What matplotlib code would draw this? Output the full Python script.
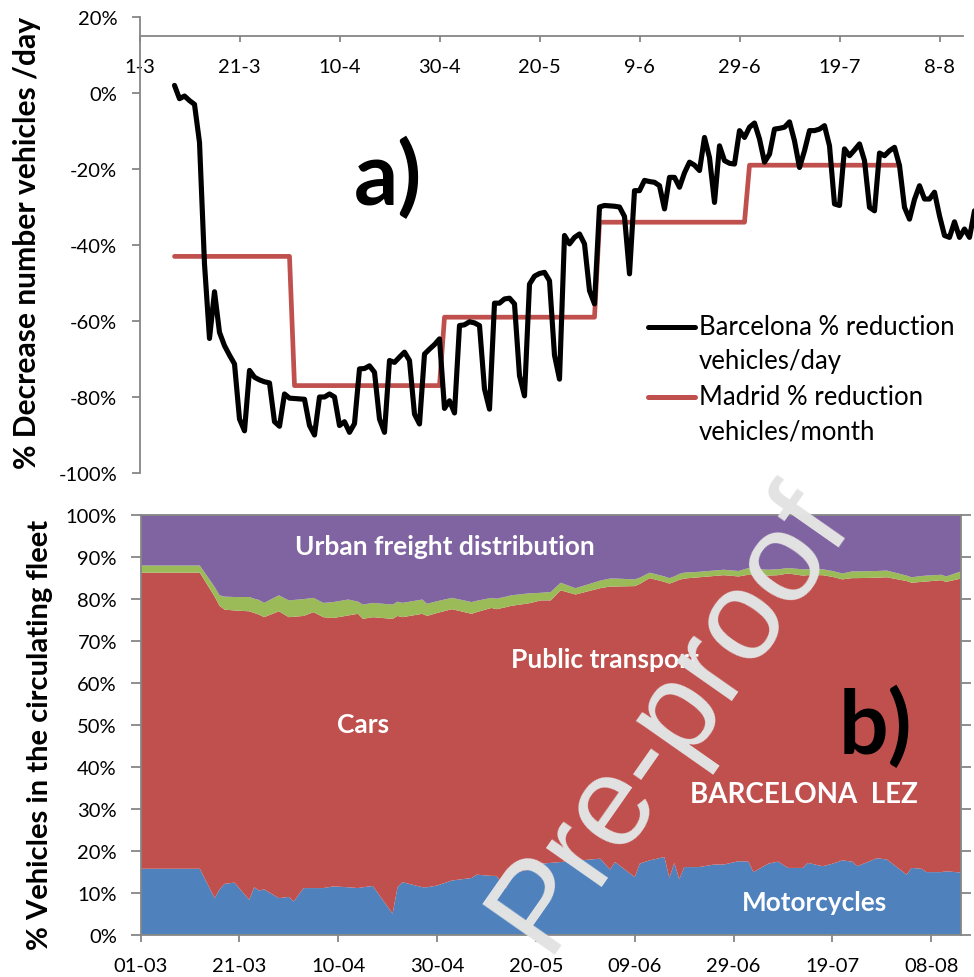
import matplotlib
matplotlib.use("Agg")
import matplotlib.pyplot as plt
import numpy as np

W, H = 974, 978
def fx(px): return px / W
def fy(py): return 1 - py / H

# ---------------- data: panel a ----------------
bcn_start_day = 7  # days since 1 March
bcn_values = [2, -1.5, -0.8, -2, -3, -13, -45, -64.6, -52.3, -63, -66.5, -69, -71.3, -85.8,
              -88.9, -73, -74.8, -75.5, -76, -76.3, -86.5, -87.7, -79.2, -80.3, -80.4, -80.5,
              -80.6, -87.5, -90, -80, -80, -79.2, -80, -87.5, -86.5, -89.3, -87, -72.6, -72.5,
              -71.8, -73.5, -85.8, -89.3, -70.4, -70.9, -69.5, -68.2, -70.4, -84.5, -87.1,
              -68.7, -67.4, -66.2, -64.7, -83, -81, -84.2, -61.2, -61, -60.2, -60.5, -61.2,
              -77.9, -83.2, -55.3, -55.3, -54.2, -54, -55.5, -74.4, -79.7, -50.3, -48.2,
              -47.5, -47.2, -49.4, -69, -75.3, -37.5, -39.7, -38, -37.1, -39.7, -52, -55.5,
              -30, -29.6, -29.7, -29.8, -30, -32.5, -47.6, -25.7, -25.7, -23, -23.3, -23.5,
              -24.4, -30.5, -22.2, -22.2, -24.8, -21, -18.2, -19, -20.4, -11.7, -17, -28.8,
              -13.9, -17.8, -18.5, -18.7, -9.9, -11.7, -9, -7.9, -12.1, -18.2, -16.1, -9.5,
              -9.3, -9, -7.6, -12.6, -19.6, -15.2, -9.9, -9.9, -9.5, -8.6, -13.9, -29.2,
              -29.6, -14.7, -16.5, -15, -13.4, -17.8, -30.1, -31, -15.8, -16.5, -15.2, -14.3,
              -19.1, -30.1, -33.2, -28, -24.4, -27.9, -27.9, -26.1, -32.3, -37.5, -38, -33.9,
              -38, -35.8, -38, -31]

madrid_months = ["March", "April", "May", "June", "July"]
madrid_first_day = [7, 31, 61, 92, 122]
madrid_last_day = [30, 60, 91, 121, 152]
madrid_values = [-43, -77, -59, -34, -19]

top_tick_labels = ["1-3", "21-3", "10-4", "30-4", "20-5", "9-6", "29-6", "19-7", "8-8"]
top_y_labels = ["-100%", "-80%", "-60%", "-40%", "-20%", "0%", "20%"]

# ---------------- data: panel b ----------------
fleet_days = [0, 12, 15, 16, 17, 19, 22, 23, 24, 25, 28, 30, 31, 33, 35, 37, 39, 42, 44, 45,
              47, 51, 52, 53, 57, 58, 60, 63, 67, 68, 71, 72, 74, 75, 78, 79, 81, 83, 85, 88,
              93, 95, 96, 100, 101, 103, 106, 107, 108, 109, 110, 113, 116, 118, 121, 123,
              124, 127, 129, 131, 134, 135, 138, 140, 142, 144, 145, 149, 151, 155, 156, 158,
              159, 162, 163, 166]
motorcycles = [15.7, 15.7, 8.7, 10.8, 12.1, 12.4, 8.3, 11.3, 10.5, 10.8, 8.7, 9.0, 7.9, 11.1,
               11.1, 11.1, 11.5, 11.3, 11.1, 11.3, 11.6, 5.0, 11.3, 12.5, 11.3, 11.3, 11.7,
               12.9, 13.5, 14.3, 14.0, 14.0, 11.0, 14.7, 15.3, 16.5, 16.9, 17.1, 17.3, 17.6,
               18.1, 15.5, 17.3, 13.7, 16.9, 17.7, 18.5, 13.5, 17.1, 13.2, 16.1, 16.1, 16.7,
               16.7, 17.5, 17.4, 14.9, 16.9, 17.4, 15.9, 15.9, 17.1, 16.3, 16.9, 17.7, 17.4,
               16.3, 18.2, 17.9, 14.3, 15.9, 15.7, 14.9, 14.9, 15.1, 14.8]
cars = [70.5, 70.5, 71.8, 67.5, 65.3, 64.8, 68.7, 65.3, 65.7, 64.8, 68.3, 66.6, 67.8, 64.8,
        65.7, 64.5, 63.9, 64.7, 65.3, 63.9, 64.0, 70.2, 64.6, 63.1, 65.1, 64.6, 64.9, 64.6,
        62.9, 62.5, 63.8, 63.5, 67.0, 63.6, 63.5, 62.5, 62.7, 62.5, 64.7, 63.4, 64.4, 67.4,
        65.6, 69.3, 66.6, 67.2, 65.5, 70.1, 66.9, 71.3, 68.7, 69.0, 68.7, 68.9, 67.8, 68.3,
        70.7, 68.6, 68.2, 70.1, 69.6, 68.5, 69.3, 68.3, 66.9, 67.5, 68.6, 66.8, 67.2, 69.9,
        67.9, 68.3, 69.2, 69.5, 68.9, 70.0]
public_transport = [1.7, 1.7, 2.3, 2.5, 3.1, 3.2, 3.4, 3.4, 3.5, 3.4, 3.8, 4.0, 4.0, 4.0, 3.4,
                    3.4, 3.8, 3.8, 2.9, 3.4, 3.4, 3.4, 3.4, 3.4, 3.4, 2.9, 2.8, 2.7, 2.8, 2.7,
                    2.4, 2.5, 2.5, 2.5, 2.4, 2.3, 1.8, 2.0, 1.8, 1.5, 1.8, 1.9, 1.9, 1.6, 1.5,
                    1.3, 1.3, 1.3, 1.3, 1.4, 1.4, 1.3, 1.3, 1.3, 1.3, 1.6, 1.5, 1.4, 1.4, 1.3,
                    1.5, 1.4, 1.4, 1.4, 1.4, 1.6, 1.6, 1.6, 1.6, 1.3, 1.3, 1.4, 1.4, 1.3, 1.3, 1.7]
urban_freight = [12.1, 12.1, 17.2, 19.2, 19.5, 19.6, 19.6, 20.0, 20.3, 21.0, 19.2, 20.4, 20.3,
                 20.1, 19.8, 21.0, 20.8, 20.2, 20.7, 21.4, 21.0, 21.4, 20.7, 21.0, 20.2, 21.2,
                 20.6, 19.8, 20.8, 20.5, 19.8, 20.0, 19.5, 19.2, 18.8, 18.7, 18.6, 18.4, 16.2,
                 17.5, 15.7, 15.2, 15.2, 15.4, 15.0, 13.8, 14.7, 15.1, 14.7, 14.1, 13.8, 13.6,
                 13.3, 13.1, 13.4, 12.7, 12.9, 13.1, 13.0, 12.7, 13.0, 13.0, 13.0, 13.4, 14.0,
                 13.5, 13.5, 13.4, 13.3, 14.5, 14.9, 14.6, 14.5, 14.3, 14.7, 13.5]

bottom_tick_labels = ["01-03", "21-03", "10-04", "30-04", "20-05", "09-06", "29-06", "19-07", "08-08"]
bottom_y_labels = ["0%", "10%", "20%", "30%", "40%", "50%", "60%", "70%", "80%", "90%", "100%"]

# ---------------- styling ----------------
AX_GRAY = "#868686"
FONT = "Lato"
plt.rcParams["font.family"] = [FONT, "DejaVu Sans"]

fig = plt.figure(figsize=(W / 100, H / 100), dpi=100)

# ================= panel a =================
ax1 = fig.add_axes([fx(139.5), fy(474), (W - 139.5) / W, (474 - 18) / H])
ax1.patch.set_visible(False)
top_xmax = (W - 139.5) / 5.0
ax1.set_xlim(0, top_xmax)
ax1.set_ylim(-100, 20)

bcn_days = np.arange(bcn_start_day, bcn_start_day + len(bcn_values))
ax1.plot(bcn_days, bcn_values, color="black", lw=3.7, solid_joinstyle="round",
         solid_capstyle="round", zorder=3, clip_on=False)

mx, my = [], []
for a, b, v in zip(madrid_first_day, madrid_last_day, madrid_values):
    mx += [a, b]
    my += [v, v]
ax1.plot(mx, my, color="#C0504D", lw=3.4, solid_joinstyle="round",
         solid_capstyle="round", zorder=2)

for s in ["top", "right"]:
    ax1.spines[s].set_visible(False)
ax1.spines["left"].set_color(AX_GRAY)
ax1.spines["left"].set_linewidth(1.3)
ax1.spines["bottom"].set_position(("data", 15))
ax1.spines["bottom"].set_color(AX_GRAY)
ax1.spines["bottom"].set_linewidth(1.3)
ax1.spines["bottom"].set_bounds(0, 164.7)

ax1.set_xticks(np.arange(0, 161, 20))
ax1.set_xticklabels(top_tick_labels)
ax1.set_yticks(np.arange(-100, 21, 20))
ax1.set_yticklabels(top_y_labels)
ax1.tick_params(axis="x", direction="out", length=4, width=1.3, color=AX_GRAY,
                pad=12, labelsize=14.5)
ax1.tick_params(axis="y", direction="out", length=6, width=1.3, color=AX_GRAY,
                pad=10, labelsize=14.5)

fig.text(fx(27), fy(243), "% Decrease number vehicles /day", rotation=90, ha="center",
         va="center", fontsize=21.6, fontweight="bold")
fig.text(fx(388), fy(178), "a)", ha="center", va="center", fontsize=63, fontweight="bold")

# manual legend (handle aligned with the first text line, as in the original)
leg_items = [("black", "Barcelona % reduction", "vehicles/day", 327.5),
             ("#C0504D", "Madrid % reduction", "vehicles/month", 398)]
for col, l1, l2, yy in leg_items:
    fig.add_artist(plt.Line2D([fx(648), fx(695)], [fy(yy), fy(yy)], color=col, lw=3.6,
                              solid_capstyle="round"))
    fig.text(fx(699), fy(yy), l1, ha="left", va="center", fontsize=18.5)
    fig.text(fx(699), fy(yy + 34), l2, ha="left", va="center", fontsize=18.5)

# ================= panel b =================
ax2 = fig.add_axes([fx(140.5), fy(935.7), (961 - 140.5) / W, (935.7 - 515.7) / H])
ax2.stackplot(fleet_days, motorcycles, cars, public_transport, urban_freight,
              colors=["#4F81BD", "#C0504D", "#9BBB59", "#8064A2"],
              labels=["Motorcycles", "Cars", "Public transport", "Urban freight distribution"],
              linewidth=0)
ax2.set_xlim(0, 166)
ax2.set_ylim(0, 100)
for s in ax2.spines.values():
    s.set_color(AX_GRAY)
    s.set_linewidth(1.3)
ax2.set_xticks(np.arange(0, 161, 20))
ax2.set_xticklabels(bottom_tick_labels)
ax2.set_yticks(np.arange(0, 101, 10))
ax2.set_yticklabels(bottom_y_labels)
ax2.tick_params(axis="x", direction="out", length=5, width=1.3, color=AX_GRAY,
                pad=11, labelsize=14.5)
ax2.tick_params(axis="y", direction="out", length=7, width=1.3, color=AX_GRAY,
                pad=10, labelsize=14.5, right=True, labelright=False)

fig.text(fx(40), fy(735), "% Vehicles in the circulating fleet", rotation=90, ha="center",
         va="center", fontsize=21, fontweight="bold")

wkw = dict(color="white", fontweight="bold", ha="center", va="center")
fig.text(fx(445), fy(547), "Urban freight distribution", fontsize=19, **wkw)
fig.text(fx(605), fy(660), "Public transport", fontsize=19, **wkw)
fig.text(fx(363), fy(725), "Cars", fontsize=19, **wkw)
fig.text(fx(804), fy(795), "BARCELONA  LEZ", fontsize=20, **wkw)
fig.text(fx(815), fy(903), "Motorcycles", fontsize=18.8, **wkw)
fig.text(fx(875), fy(727), "b)", ha="center", va="center", fontsize=63, fontweight="bold",
         color="black")

# watermark
wm = dict(rotation=55, rotation_mode="anchor", va="baseline", fontsize=92,
          color="#E3E3E3", family="Liberation Sans", zorder=10)
fig.text(fx(544), fy(955), "Pre-proof", ha="left", **wm)

fig.savefig("out.png", dpi=100)
